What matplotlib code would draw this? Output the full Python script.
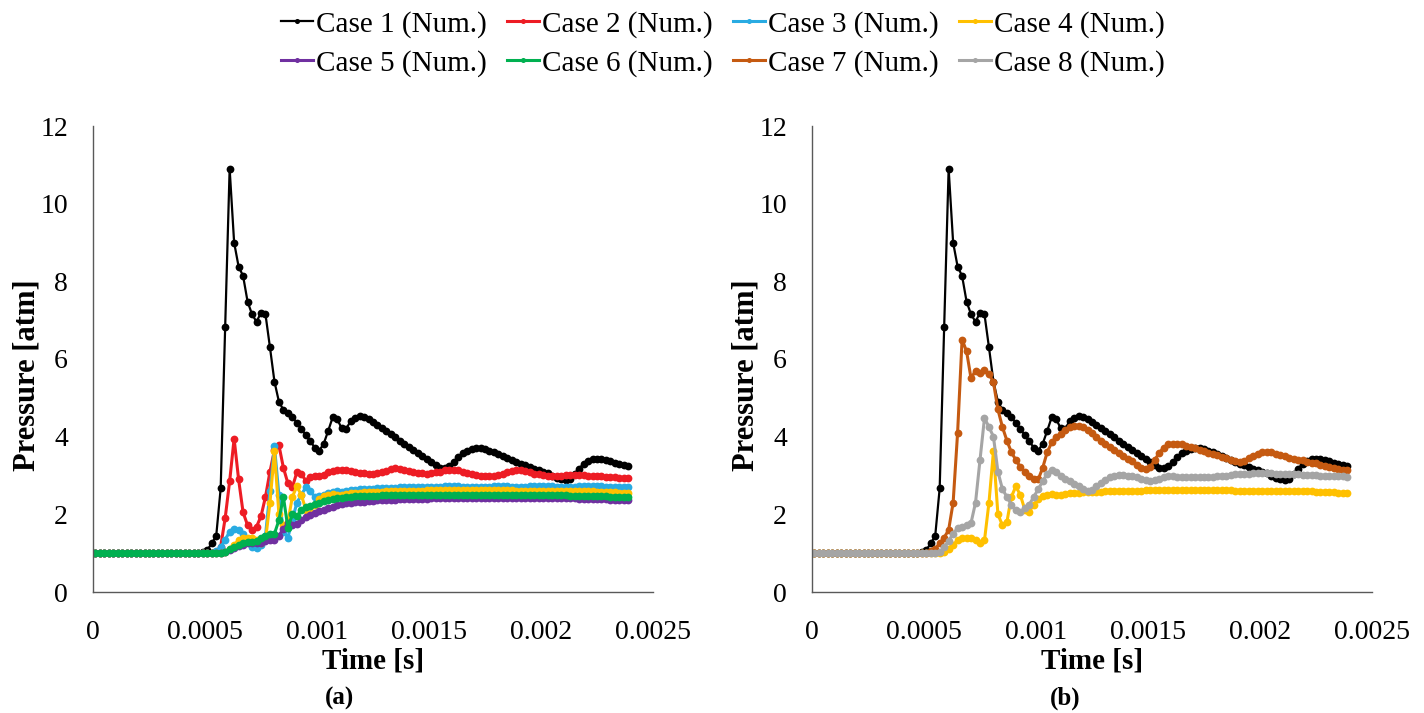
import numpy as np
import matplotlib
matplotlib.use("Agg")
import matplotlib.pyplot as plt

plt.rcParams['font.family'] = ['Liberation Serif', 'DejaVu Serif']

# time samples [s]
time = np.round(0.00001 + 0.00002 * np.arange(120), 6)

ones20 = [1.0] * 20

case1 = ones20 + [
    1, 1, 1, 1, 1.02, 1.08, 1.25, 1.44, 2.67, 6.82,
    10.9, 9.0, 8.38, 8.14, 7.48, 7.15, 6.96, 7.19, 7.15, 6.3,
    5.42, 4.9, 4.69, 4.62, 4.5, 4.36, 4.2, 4.04, 3.88, 3.72,
    3.64, 3.82, 4.15, 4.5, 4.45, 4.22, 4.2, 4.4, 4.48, 4.52,
    4.5, 4.45, 4.38, 4.3, 4.22, 4.14, 4.06, 3.98, 3.9, 3.82,
    3.74, 3.66, 3.59, 3.5, 3.42, 3.34, 3.26, 3.2, 3.19, 3.25,
    3.35, 3.48, 3.58, 3.64, 3.68, 3.7, 3.7, 3.68, 3.64, 3.6,
    3.56, 3.5, 3.44, 3.39, 3.34, 3.3, 3.26, 3.22, 3.18, 3.14,
    3.1, 3.06, 3.0, 2.94, 2.9, 2.88, 2.92, 3.05, 3.18, 3.3,
    3.38, 3.42, 3.43, 3.42, 3.4, 3.37, 3.33, 3.3, 3.27, 3.24]

case2 = ones20 + [
    1, 1, 1, 1, 1, 1, 1, 1.03, 1.17, 1.9,
    2.85, 3.95, 2.9, 2.05, 1.72, 1.6, 1.68, 1.95, 2.45, 3.1,
    3.65, 3.78, 3.2, 2.8, 2.7, 3.08, 3.05, 2.86, 2.95, 3.0,
    3.0, 3.02, 3.1, 3.12, 3.14, 3.15, 3.14, 3.12, 3.09, 3.07,
    3.06, 3.05, 3.05, 3.06, 3.08, 3.12, 3.16, 3.19, 3.18, 3.15,
    3.12, 3.1, 3.07, 3.06, 3.05, 3.06, 3.08, 3.1, 3.13, 3.14,
    3.14, 3.13, 3.1, 3.07, 3.04, 3.01, 2.99, 2.98, 2.98, 2.99,
    3.01, 3.04, 3.08, 3.11, 3.13, 3.13, 3.11, 3.08, 3.05, 3.03,
    3.01, 3.0, 3.0, 3.0, 3.0, 3.01, 3.01, 3.01, 3.01, 3.01,
    3.0, 3.0, 2.99, 2.98, 2.97, 2.96, 2.95, 2.94, 2.93, 2.93]

case3 = ones20 + [
    1, 1, 1, 1, 1, 1, 1, 1.05, 1.15, 1.35,
    1.55, 1.62, 1.6, 1.5, 1.3, 1.15, 1.13, 1.2, 1.45, 2.6,
    3.75, 2.5, 1.55, 1.4, 1.85, 2.3, 2.5, 2.7, 2.6, 2.45,
    2.48, 2.5, 2.55, 2.58, 2.6, 2.58, 2.6, 2.62, 2.63, 2.64,
    2.65, 2.66, 2.66, 2.67, 2.68, 2.68, 2.69, 2.69, 2.7, 2.7,
    2.7, 2.71, 2.71, 2.7, 2.7, 2.7, 2.71, 2.71, 2.72, 2.72,
    2.72, 2.72, 2.71, 2.71, 2.7, 2.7, 2.7, 2.71, 2.71, 2.72,
    2.72, 2.72, 2.72, 2.71, 2.71, 2.71, 2.71, 2.72, 2.72, 2.72,
    2.72, 2.72, 2.72, 2.71, 2.71, 2.71, 2.71, 2.71, 2.72, 2.72,
    2.72, 2.72, 2.72, 2.72, 2.71, 2.71, 2.71, 2.71, 2.71, 2.71]

case4 = ones20 + [
    1, 1, 1, 1, 1, 1, 1, 1, 1, 1.02,
    1.12, 1.22, 1.33, 1.4, 1.4, 1.38, 1.33, 1.27, 1.33, 2.3,
    3.62, 2.0, 1.72, 1.8, 2.45, 2.72, 2.5, 2.12, 2.07, 2.25,
    2.4, 2.46, 2.5, 2.52, 2.5, 2.5, 2.53, 2.54, 2.55, 2.56,
    2.57, 2.57, 2.58, 2.58, 2.58, 2.59, 2.59, 2.6, 2.6, 2.6,
    2.6, 2.61, 2.61, 2.61, 2.62, 2.62, 2.62, 2.62, 2.62, 2.62,
    2.62, 2.62, 2.62, 2.62, 2.62, 2.62, 2.62, 2.62, 2.62, 2.62,
    2.62, 2.62, 2.62, 2.62, 2.61, 2.61, 2.61, 2.61, 2.61, 2.61,
    2.61, 2.61, 2.6, 2.6, 2.6, 2.6, 2.6, 2.6, 2.6, 2.6,
    2.59, 2.59, 2.58, 2.58, 2.58, 2.57, 2.57, 2.56, 2.56, 2.55]

case5 = ones20 + [
    1, 1, 1, 1, 1, 1, 1, 1, 1, 1.02,
    1.08, 1.13, 1.18, 1.22, 1.25, 1.25, 1.25, 1.27, 1.32, 1.34,
    1.35, 1.45, 1.62, 1.78, 1.72, 1.75, 1.85, 1.92, 1.98, 2.03,
    2.08, 2.12, 2.16, 2.2, 2.23, 2.26, 2.28, 2.3, 2.31, 2.32,
    2.33, 2.34, 2.35, 2.36, 2.37, 2.37, 2.38, 2.38, 2.39, 2.39,
    2.39, 2.4, 2.4, 2.4, 2.4, 2.41, 2.41, 2.41, 2.41, 2.41,
    2.41, 2.41, 2.41, 2.42, 2.42, 2.42, 2.42, 2.42, 2.42, 2.42,
    2.42, 2.42, 2.42, 2.42, 2.42, 2.42, 2.42, 2.42, 2.42, 2.42,
    2.42, 2.42, 2.42, 2.41, 2.41, 2.41, 2.41, 2.41, 2.4, 2.4,
    2.4, 2.4, 2.39, 2.39, 2.39, 2.38, 2.38, 2.38, 2.37, 2.37]

case6 = ones20 + [
    1, 1, 1, 1, 1, 1, 1, 1, 1, 1.03,
    1.1, 1.17, 1.22, 1.27, 1.3, 1.3, 1.32, 1.38, 1.45, 1.5,
    1.5, 1.85, 2.45, 1.65, 2.0, 1.95, 2.1, 2.18, 2.22, 2.26,
    2.3, 2.34, 2.37, 2.4, 2.42, 2.43, 2.44, 2.45, 2.46, 2.46,
    2.47, 2.47, 2.48, 2.48, 2.49, 2.49, 2.49, 2.5, 2.5, 2.5,
    2.5, 2.5, 2.51, 2.51, 2.51, 2.51, 2.51, 2.51, 2.51, 2.51,
    2.51, 2.51, 2.51, 2.51, 2.51, 2.51, 2.51, 2.51, 2.51, 2.51,
    2.51, 2.51, 2.51, 2.51, 2.51, 2.51, 2.51, 2.5, 2.5, 2.5,
    2.5, 2.5, 2.5, 2.5, 2.49, 2.49, 2.48, 2.48, 2.48, 2.47,
    2.47, 2.47, 2.46, 2.46, 2.46, 2.45, 2.45, 2.45, 2.45, 2.44]

case7 = ones20 + [
    1, 1, 1, 1, 1, 1, 1.05, 1.12, 1.25, 1.4,
    1.6, 2.3, 4.1, 6.5, 6.2, 5.5, 5.7, 5.65, 5.72, 5.62,
    5.4, 4.7, 4.25, 3.9, 3.6, 3.4, 3.22, 3.1, 3.0, 2.92,
    2.9, 3.2, 3.6, 3.85, 4.0, 4.08, 4.18, 4.25, 4.28, 4.28,
    4.25, 4.18, 4.1, 4.0, 3.9, 3.82, 3.74, 3.66, 3.58, 3.5,
    3.43, 3.37, 3.28, 3.2, 3.17, 3.22, 3.4, 3.58, 3.72, 3.8,
    3.82, 3.82, 3.8, 3.77, 3.73, 3.7, 3.66, 3.62, 3.58, 3.55,
    3.52, 3.48, 3.44, 3.4, 3.37, 3.36, 3.38, 3.44, 3.5, 3.56,
    3.6, 3.61, 3.6, 3.56, 3.52, 3.49, 3.46, 3.43, 3.41, 3.39,
    3.36, 3.33, 3.31, 3.28, 3.25, 3.22, 3.19, 3.17, 3.15, 3.14]

case8 = ones20 + [
    1, 1, 1, 1, 1, 1, 1, 1, 1.02, 1.15,
    1.32, 1.5, 1.65, 1.68, 1.72, 1.78, 2.3, 3.4, 4.48, 4.25,
    4.0, 3.1, 2.65, 2.45, 2.25, 2.1, 2.07, 2.16, 2.25, 2.45,
    2.65, 2.85, 3.05, 3.15, 3.1, 3.0, 2.92, 2.85, 2.78, 2.72,
    2.65, 2.6, 2.62, 2.72, 2.8, 2.88, 2.95, 3.0, 3.02, 3.02,
    3.0, 2.98, 2.96, 2.92, 2.88, 2.86, 2.88, 2.92, 2.96, 2.98,
    2.98, 2.97, 2.97, 2.96, 2.96, 2.95, 2.95, 2.95, 2.96, 2.97,
    2.98, 2.99, 3.0, 3.02, 3.03, 3.04, 3.05, 3.05, 3.06, 3.06,
    3.06, 3.06, 3.06, 3.05, 3.05, 3.04, 3.04, 3.03, 3.03, 3.02,
    3.02, 3.01, 3.01, 3.0, 3.0, 2.99, 2.99, 2.98, 2.98, 2.97]

labels = ['Case 1 (Num.)', 'Case 2 (Num.)', 'Case 3 (Num.)', 'Case 4 (Num.)',
          'Case 5 (Num.)', 'Case 6 (Num.)', 'Case 7 (Num.)', 'Case 8 (Num.)']
colors = ['#000000', '#ED1C24', '#29ABE2', '#FFC000',
          '#7030A0', '#00B050', '#C55A11', '#A5A5A5']
series = [case1, case2, case3, case4, case5, case6, case7, case8]

xticks = [0, 0.0005, 0.001, 0.0015, 0.002, 0.0025]
xticklabels = ['0', '0.0005', '0.001', '0.0015', '0.002', '0.0025']
yticks = [0, 2, 4, 6, 8, 10, 12]

W, H = 1424, 713
fig = plt.figure(figsize=(W / 100, H / 100), dpi=100)
ax1 = fig.add_axes([93 / W, 121 / H, 560 / W, 466 / H])
ax2 = fig.add_axes([812 / W, 121 / H, 560 / W, 466 / H])

handles = {}
def draw(ax, idx):
    lw = 1.6 if idx == 0 else 2.2
    (ln,) = ax.plot(time, series[idx], color=colors[idx], lw=lw,
                    marker='o', ms=5.6, mew=0, label=labels[idx])
    handles[idx] = ln

for i in [0, 1, 2, 3, 4, 5]:
    draw(ax1, i)
for i in [0, 3, 6, 7]:
    draw(ax2, i)

for ax in (ax1, ax2):
    ax.set_xlim(0, 0.0025)
    ax.set_ylim(0, 12)
    ax.set_xticks(xticks)
    ax.set_xticklabels(xticklabels)
    ax.set_yticks(yticks)
    ax.tick_params(length=0, labelsize=20)
    ax.tick_params(axis='x', pad=20)
    ax.tick_params(axis='y', pad=18)
    for s in ('top', 'right'):
        ax.spines[s].set_visible(False)
    for s in ('left', 'bottom'):
        ax.spines[s].set_color('#595959')
        ax.spines[s].set_linewidth(1.0)
    ax.set_xlabel('Time [s]', fontsize=21, fontweight='bold', va='center')
    ax.set_ylabel('Pressure [atm]', fontsize=22, fontweight='bold',
                  va='center')
    ax.xaxis.set_label_coords(0.5, (592 - 661) / 466)
    ax.yaxis.set_label_coords((27 - 93) / 560, (592 - 375) / 466)

fig.text(340 / W, 1 - 698 / H, '(a)', fontsize=18, fontweight='bold',
         ha='center', va='center')
fig.text(1065 / W, 1 - 698 / H, '(b)', fontsize=18, fontweight='bold',
         ha='center', va='center')

order = [0, 4, 1, 5, 2, 6, 3, 7]
fig.legend([handles[i] for i in order], [labels[i] for i in order],
           loc='upper center', bbox_to_anchor=(0.5075, 1.022), ncol=4,
           frameon=False, fontsize=21, handlelength=1.1,
           handletextpad=0.1, columnspacing=0.7, labelspacing=0.42,
           markerscale=0.65)

fig.savefig('out.png', dpi=100)
